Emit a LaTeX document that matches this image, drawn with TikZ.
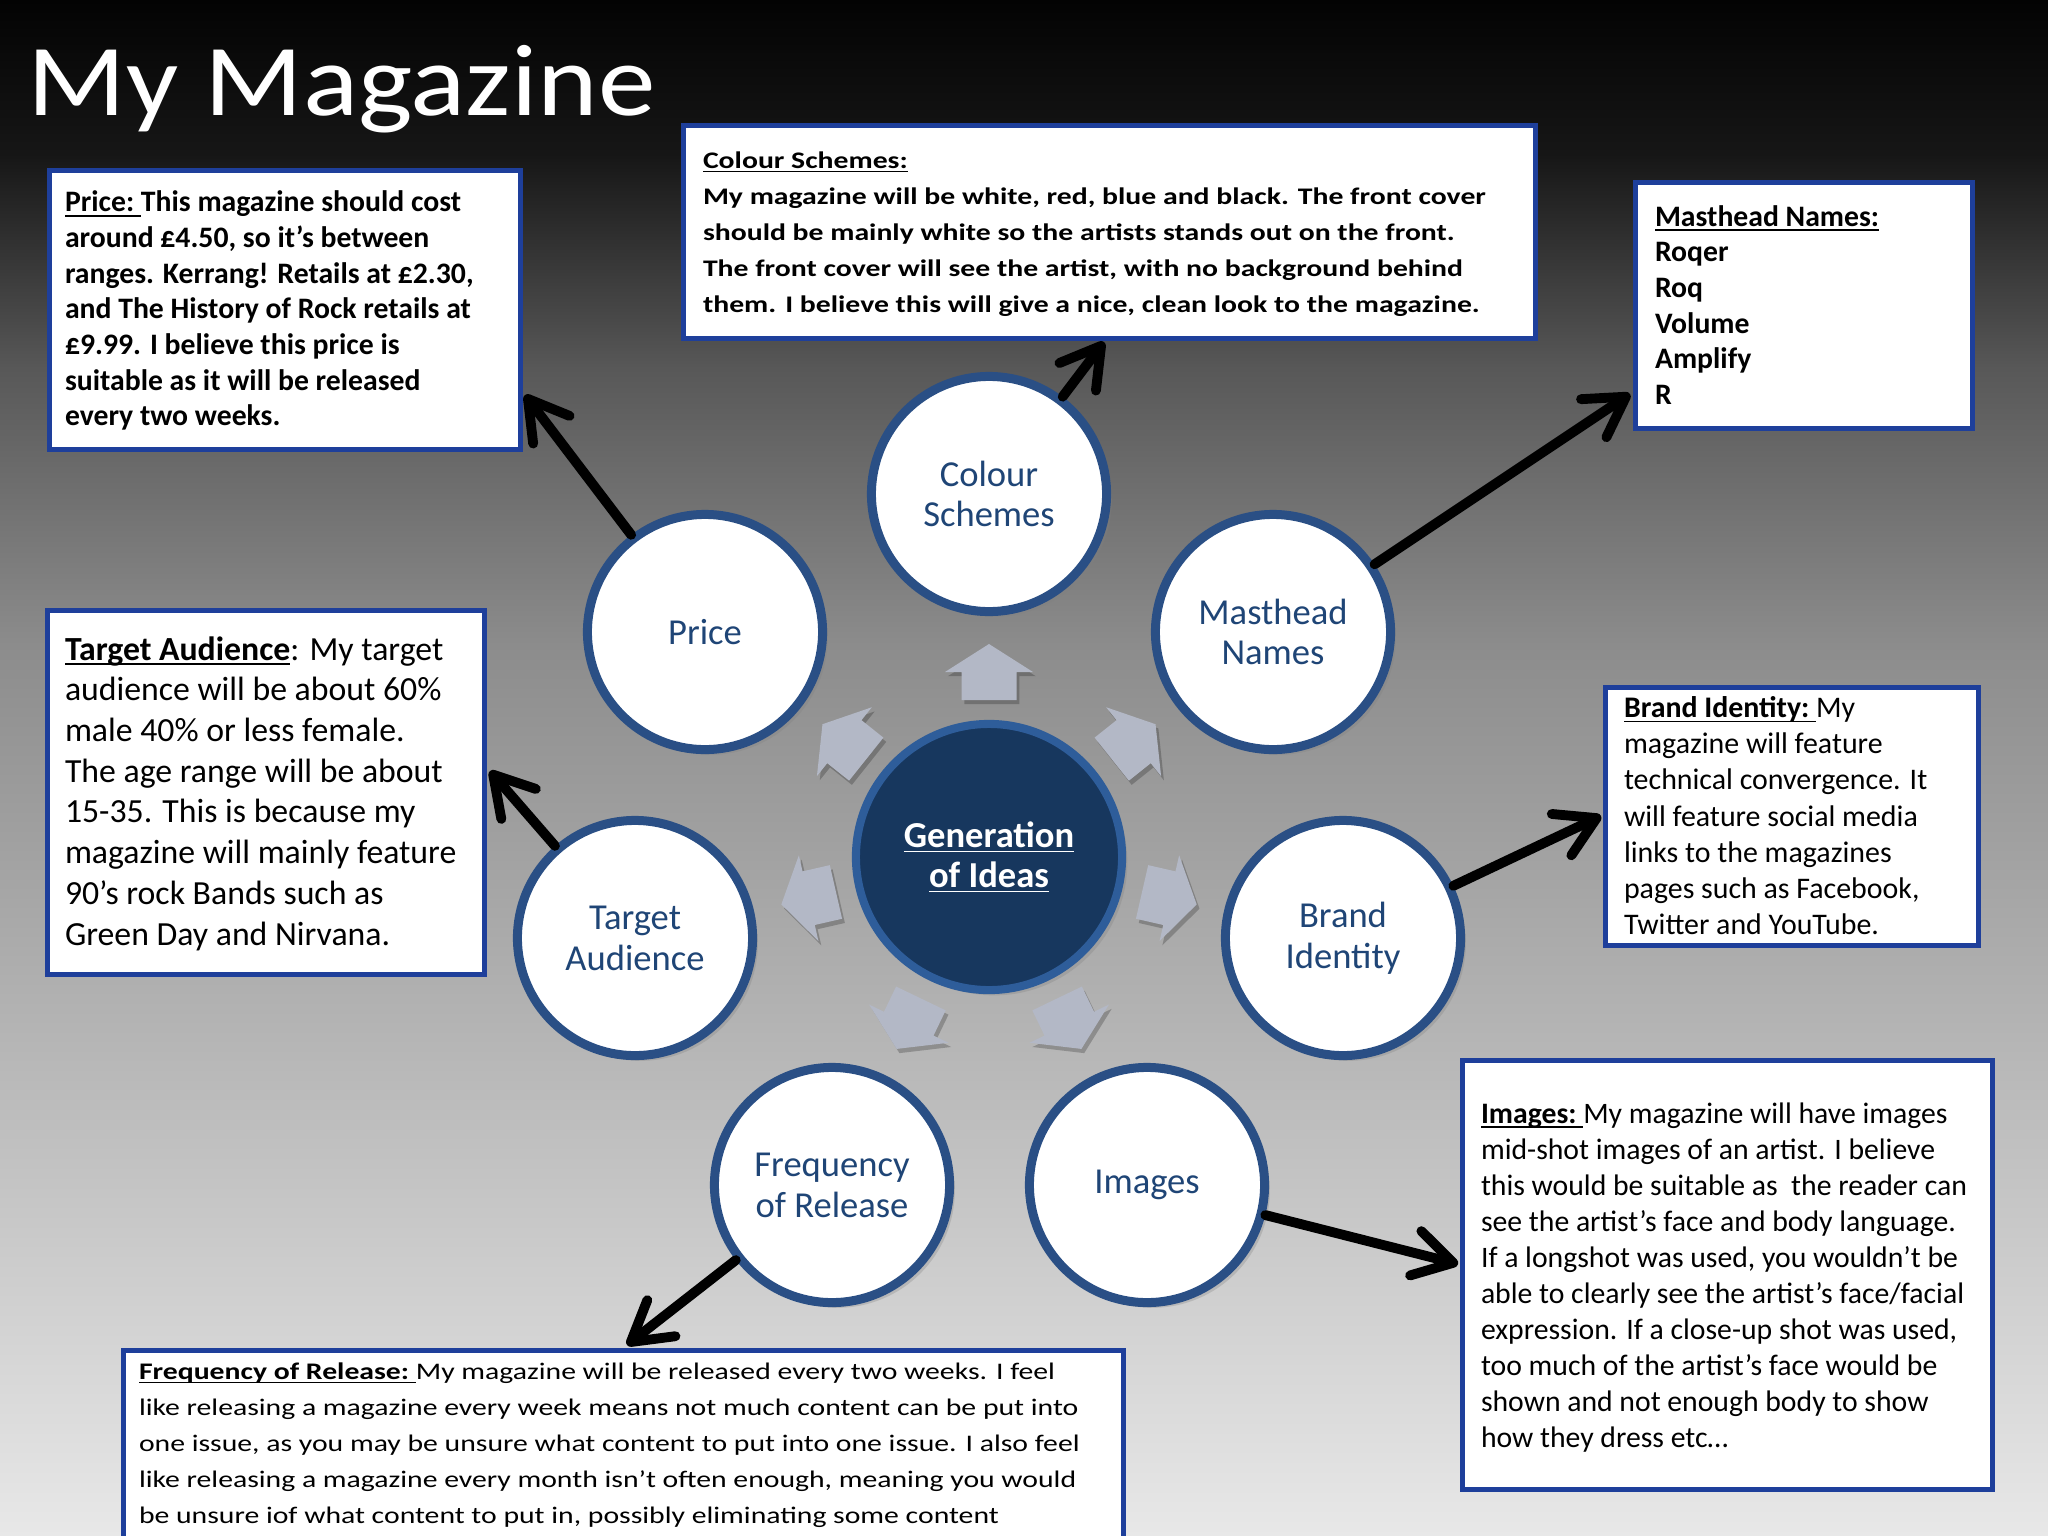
\documentclass[tikz,border=0pt]{standalone}
\usepackage{fontspec}
\setmainfont{Carlito}
\usepackage{graphicx}
\usetikzlibrary{arrows.meta,shadows}
\definecolor{boxblue}{HTML}{1E3F9B}
\definecolor{cblue}{HTML}{2A4F85}
\definecolor{ctext}{HTML}{1F4576}
\definecolor{gfill}{HTML}{17375E}
\definecolor{gborder}{HTML}{2E5D9A}
\definecolor{garrowc}{HTML}{B3B8C6}
\definecolor{c0}{RGB}{3,3,3}
\definecolor{c20}{RGB}{22,22,22}
\definecolor{c90}{RGB}{88,88,88}
\definecolor{c140}{RGB}{140,140,140}
\definecolor{c185}{RGB}{185,185,185}
\definecolor{c232}{RGB}{232,232,232}
\pgfdeclareverticalshading{bgshade}{100bp}{color(0bp)=(c232); color(25bp)=(c232); color(40bp)=(c185); color(54bp)=(c140); color(63bp)=(c90); color(70bp)=(c20); color(75bp)=(c0); color(100bp)=(c0)}
\newlength\ulw
\newcommand\myul[1]{\settowidth\ulw{#1}\rlap{#1}\rule[-1.4pt]{\ulw}{0.5pt}}
\newcommand\sq[1]{\scalebox{1}[0.8]{#1}}
\tikzset{
  tbox/.style={draw=boxblue, line width=1.42pt, fill=white, inner sep=0pt, outer sep=0pt, anchor=north west},
  btext/.style={anchor=north west, inner sep=0pt, outer sep=0pt, align=left, text=black},
  cnode/.style={circle, draw=cblue, line width=2.56pt, fill=white, minimum size=2.35cm, inner sep=0pt,
    text=ctext, font=\fontsize{10.4}{11.6}\selectfont, align=center,
    drop shadow={opacity=0.3, shadow xshift=1.5pt, shadow yshift=-1.5pt}},
  gnode/.style={circle, draw=gborder, line width=2.3pt, fill=gfill, minimum size=2.66cm, inner sep=0pt,
    text=white, font=\fontsize{10.4}{11.4}\selectfont\bfseries, align=center,
    drop shadow={opacity=0.3, shadow xshift=1.5pt, shadow yshift=-1.5pt}},
  conn/.style={line width=2.8pt, black, line cap=round, -{Straight Barb[length=11pt,width=13pt,round]}},
  garrow/.style={fill=garrowc},
  garrowshadow/.style={fill=black, opacity=0.22}
}
\begin{document}
\begin{tikzpicture}[x=0.01cm,y=-0.01cm]
\useasboundingbox (0,0) rectangle (2048,1536);
\clip (0,0) rectangle (2048,1536);
\shade[shading=bgshade] (0,0) rectangle (2048,1536);

% title
\node[anchor=base west, inner sep=0pt, text=white, font=\fontsize{29}{34}\selectfont] (title) at (27,115) {\scalebox{1.13}[1]{My Magazine}};

% text boxes
\node[tbox, minimum width=4.71cm, minimum height=2.79cm] (pricebox) at (49.5,170.5) {};
\node[tbox, minimum width=8.51cm, minimum height=2.13cm] (colourbox) at (683.5,125.5) {};
\node[tbox, minimum width=3.37cm, minimum height=2.46cm] (mastbox) at (1635.5,182.5) {};
\node[tbox, minimum width=4.37cm, minimum height=3.64cm] (targetbox) at (47.5,610.5) {};
\node[tbox, minimum width=3.73cm, minimum height=2.58cm] (brandbox) at (1605.5,687.5) {};
\node[tbox, minimum width=5.30cm, minimum height=4.29cm] (imagesbox) at (1462.5,1060.5) {};
\node[tbox, minimum width=9.99cm, minimum height=2.20cm] (freqbox) at (123.5,1350.5) {};

% circles
\node[cnode] (colour) at (989,494) {Colour\\Schemes};
\node[cnode] (price) at (705,632) {Price};
\node[cnode] (mast) at (1273,632) {Masthead\\Names};
\node[cnode] (target) at (635,938) {Target\\Audience};
\node[cnode] (brand) at (1343,938) {Brand\\Identity};
\node[cnode] (freq) at (832,1185) {Frequency\\of Release};
\node[cnode] (images) at (1147,1185) {Images};
\node[gnode] (gen) at (989,857) {\myul{Generation}\\\myul{of Ideas}};

% connectors
\coordinate (tprice) at (525,395);
\coordinate (tcolour) at (1104,342);
\coordinate (tmast) at (1630,394);
\coordinate (ttarget) at (490,771);
\coordinate (tbrand) at (1601,816);
\coordinate (tfreq) at (627,1345);
\coordinate (timages) at (1458,1264);
\draw[conn] (price) -- (tprice);
\draw[conn] (colour) -- (tcolour);
\draw[conn] (mast) -- (tmast);
\draw[conn] (target) -- (ttarget);
\draw[conn] (brand) -- (tbrand);
\draw[conn] (freq) -- (tfreq);
\draw[conn] (images) -- (timages);

% small block arrows around the centre
\foreach \a in {0,51.43,102.86,154.29,205.71,257.14,308.57}{
  \fill[garrowshadow, shift={(gen.center)}, xshift=0.8pt, yshift=-1.2pt, rotate=\a]
    (0,-213) -- (44,-185) -- (27.5,-185) -- (27.5,-157) -- (-27.5,-157) -- (-27.5,-185) -- (-44,-185) -- cycle;
  \fill[garrow, shift={(gen.center)}, rotate=\a]
    (0,-213) -- (44,-185) -- (27.5,-185) -- (27.5,-157) -- (-27.5,-157) -- (-27.5,-185) -- (-44,-185) -- cycle;
}

% box texts
\node[btext, font=\fontsize{8.45}{10.13}\selectfont\bfseries] (pricetxt) at (65,187)
 {\strut\myul{Price:\ }This magazine should cost\\
  around £4.50, so it’s between\\
  ranges. Kerrang! Retails at £2.30,\\
  and The History of Rock retails at\\
  £9.99. I believe this price is\\
  suitable as it will be released\\
  every two weeks.};

\node[btext, font=\fontsize{8.45}{10.24}\selectfont\bfseries] (coltxt) at (703,143)
 {\strut\sq{\myul{Colour Schemes:}}\\
  \sq{My magazine will be white, red, blue and black. The front cover}\\
  \sq{should be mainly white so the artists stands out on the front.}\\
  \sq{The front cover will see the artist, with no background behind}\\
  \sq{them. I believe this will give a nice, clean look to the magazine.}};

\node[btext, font=\fontsize{8.45}{10.16}\selectfont\bfseries] (masttxt) at (1655,201)
 {\strut\myul{Masthead Names:}\\
  Roqer\\
  Roq\\
  Volume\\
  Amplify\\
  R};

\node[btext, font=\fontsize{9.6}{11.58}\selectfont] (targettxt) at (65,631.5)
 {\strut\myul{\textbf{Target Audience}}: My target\\
  audience will be about 60\%\\
  male 40\% or less female.\\
  The age range will be about\\
  15-35. This is because my\\
  magazine will mainly feature\\
  90’s rock Bands such as\\
  Green Day and Nirvana.};

\node[btext, font=\fontsize{8.5}{10.3}\selectfont] (brandtxt) at (1624,692)
 {\strut\myul{\textbf{Brand Identity:}\ }My\\
  magazine will feature\\
  technical convergence. It\\
  will feature social media\\
  links to the magazines\\
  pages such as Facebook,\\
  Twitter and YouTube.};

\node[btext, font=\fontsize{8.45}{10.24}\selectfont] (imagestxt) at (1481,1098)
 {\strut\myul{\textbf{Images:}\ }My magazine will have images\\
  mid-shot images of an artist. I believe\\
  this would be suitable as\ \ the reader can\\
  see the artist’s face and body language.\\
  If a longshot was used, you wouldn’t be\\
  able to clearly see the artist’s face/facial\\
  expression. If a close-up shot was used,\\
  too much of the artist’s face would be\\
  shown and not enough body to show\\
  how they dress etc…};

\node[btext, font=\fontsize{8.45}{10.24}\selectfont] (freqtxt) at (139,1354)
 {\strut\sq{\myul{\textbf{Frequency of Release:}\ }My magazine will be released every two weeks. I feel}\\
  \sq{like releasing a magazine every week means not much content can be put into}\\
  \sq{one issue, as you may be unsure what content to put into one issue. I also feel}\\
  \sq{like releasing a magazine every month isn’t often enough, meaning you would}\\
  \sq{be unsure iof what content to put in, possibly eliminating some content}};
\end{tikzpicture}
\end{document}
